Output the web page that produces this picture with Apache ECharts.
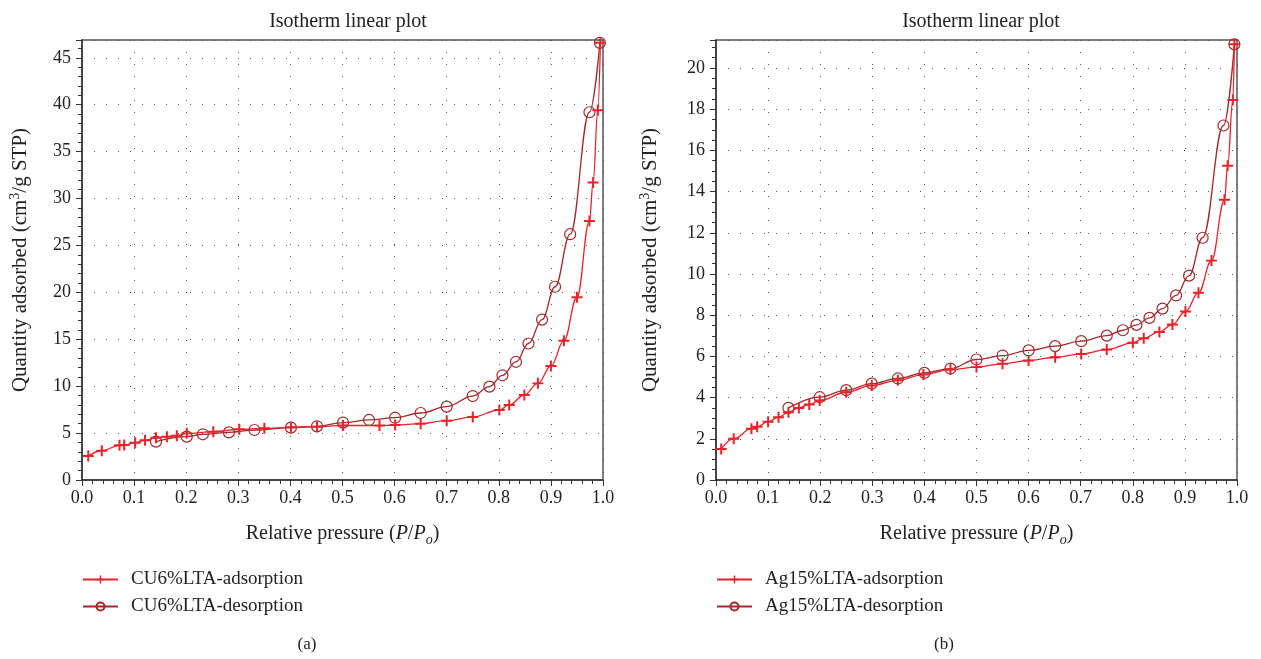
<!DOCTYPE html>
<html>
<head>
<meta charset="utf-8">
<script src="https://cdn.jsdelivr.net/npm/echarts@6/dist/echarts.min.js"></script>
<style>
  html, body { margin: 0; padding: 0; background: #fff; }
  #chart { width: 1261px; height: 659px; }
</style>
</head>
<body>
<div id="chart"></div>
<script>
// Isotherm data
const cuAdsP = [0.012, 0.038, 0.072, 0.081, 0.102, 0.121, 0.142, 0.163, 0.182, 0.201, 0.252, 0.302, 0.350, 0.401, 0.451, 0.501, 0.571, 0.601, 0.650, 0.700, 0.750, 0.801, 0.820, 0.849, 0.875, 0.900, 0.925, 0.950, 0.974, 0.981, 0.990, 0.995];
const cuAdsQ = [2.56, 3.12, 3.70, 3.72, 3.98, 4.23, 4.51, 4.62, 4.72, 4.97, 5.15, 5.40, 5.51, 5.62, 5.68, 5.82, 5.80, 5.86, 6.00, 6.32, 6.72, 7.46, 8.00, 9.06, 10.3, 12.15, 14.85, 19.48, 27.6, 31.7, 39.4, 46.6];
const cuDesP = [0.142, 0.201, 0.232, 0.282, 0.331, 0.401, 0.451, 0.501, 0.551, 0.601, 0.650, 0.700, 0.750, 0.782, 0.807, 0.833, 0.857, 0.883, 0.908, 0.937, 0.974, 0.994];
const cuDesQ = [4.09, 4.62, 4.87, 5.08, 5.33, 5.58, 5.72, 6.12, 6.40, 6.64, 7.14, 7.82, 8.95, 9.95, 11.16, 12.6, 14.55, 17.1, 20.6, 26.2, 39.2, 46.6];

const agAdsP = [0.010, 0.034, 0.068, 0.079, 0.100, 0.120, 0.139, 0.159, 0.179, 0.199, 0.250, 0.299, 0.349, 0.398, 0.450, 0.500, 0.550, 0.600, 0.651, 0.701, 0.750, 0.800, 0.821, 0.851, 0.876, 0.901, 0.926, 0.951, 0.976, 0.982, 0.992, 0.995];
const agAdsQ = [1.51, 2.0, 2.49, 2.58, 2.83, 3.05, 3.29, 3.50, 3.67, 3.86, 4.26, 4.59, 4.84, 5.12, 5.36, 5.48, 5.64, 5.80, 5.96, 6.12, 6.33, 6.66, 6.88, 7.19, 7.55, 8.18, 9.09, 10.65, 13.6, 15.25, 18.45, 21.15];
const agDesP = [0.139, 0.199, 0.250, 0.299, 0.349, 0.400, 0.450, 0.500, 0.550, 0.600, 0.651, 0.701, 0.750, 0.781, 0.807, 0.832, 0.857, 0.883, 0.908, 0.934, 0.974, 0.995];
const agDesQ = [3.50, 4.02, 4.36, 4.68, 4.93, 5.20, 5.41, 5.85, 6.04, 6.29, 6.50, 6.74, 7.01, 7.27, 7.53, 7.87, 8.32, 8.96, 9.92, 11.76, 17.21, 21.15];

const seriesNames = ['CU6%LTA-adsorption', 'CU6%LTA-desorption', 'Ag15%LTA-adsorption', 'Ag15%LTA-desorption'];
const panelTitle = 'Isotherm linear plot';
const captions = ['(a)', '(b)'];

const FONT = '"Liberation Serif", "DejaVu Serif", serif';
const INK = '#222';
const ADS_RED = '#e8222b';
const DES_RED = '#a02a2d';
const PLUS = 'path://M0,4.1L10,4.1L10,5.9L0,5.9ZM4.1,0L5.9,0L5.9,10L4.1,10Z';

const zip = (xs, ys) => xs.map((x, i) => [x, ys[i]]);

const chart = echarts.init(document.getElementById('chart'));

const xAxisFor = (gridIndex) => ({
  type: 'value',
  gridIndex,
  min: 0,
  max: 1,
  interval: 0.1,
  name: '{n|Relative pressure (}{i|P}{n|/}{i|P}{s|o}{n|)}',
  nameLocation: 'middle',
  nameGap: 40,
  nameTextStyle: {
    rich: {
      n: { fontFamily: FONT, fontSize: 20, color: INK },
      i: { fontFamily: FONT, fontSize: 20, fontStyle: 'italic', color: INK },
      s: { fontFamily: FONT, fontSize: 14, fontStyle: 'italic', color: INK, padding: [13, 0, 0, 0] },
    },
  },
  axisLine: { lineStyle: { color: '#333', width: 1.5 } },
  axisTick: { length: 6, lineStyle: { color: '#333' } },
  minorTick: { show: true, splitNumber: 5, length: 4, lineStyle: { color: '#333' } },
  axisLabel: {
    fontFamily: FONT, fontSize: 18, color: INK, margin: 9,
    formatter: (v) => v.toFixed(1),
  },
  splitLine: { show: true, lineStyle: { color: '#555', type: [1, 11], width: 1 } },
});

const yAxisFor = (gridIndex, max, interval, minorSplit) => ({
  type: 'value',
  gridIndex,
  min: 0,
  max,
  interval,
  name: '{n|Quantity adsorbed (cm}{u|3}{n|/g STP)}',
  nameLocation: 'middle',
  nameGap: gridIndex === 0 ? 49 : 53,
  nameTextStyle: {
    rich: {
      n: { fontFamily: FONT, fontSize: 21, color: INK },
      u: { fontFamily: FONT, fontSize: 14, color: INK, padding: [0, 0, 11, 0] },
    },
  },
  axisLine: { lineStyle: { color: '#333', width: 1.5 } },
  axisTick: { length: 6, lineStyle: { color: '#333' } },
  minorTick: { show: true, splitNumber: minorSplit, length: 4, lineStyle: { color: '#333' } },
  axisLabel: { fontFamily: FONT, fontSize: 18, color: INK, margin: 11, showMaxLabel: false },
  splitLine: { show: true, lineStyle: { color: '#555', type: [1, 11], width: 1 } },
});

const adsSeries = (name, idx, data) => ({
  name,
  type: 'line',
  xAxisIndex: idx,
  yAxisIndex: idx,
  data,
  smooth: 0.4,
  smoothMonotone: 'x',
  symbol: PLUS,
  symbolSize: 11,
  itemStyle: { color: ADS_RED },
  lineStyle: { color: ADS_RED, width: 1.3 },
  z: 3,
});

const desSeries = (name, idx, data) => ({
  name,
  type: 'line',
  xAxisIndex: idx,
  yAxisIndex: idx,
  data,
  smooth: 0.4,
  smoothMonotone: 'x',
  symbol: 'circle',
  symbolSize: 11,
  itemStyle: { color: 'rgba(255,255,255,0)', borderColor: DES_RED, borderWidth: 1.2 },
  lineStyle: { color: DES_RED, width: 1.3 },
  z: 2,
});

const legendFor = (left, names) => ({
  left,
  top: 570,
  padding: 0,
  orient: 'vertical',
  itemWidth: 35,
  itemHeight: 10,
  itemGap: 8,
  textStyle: { fontFamily: FONT, fontSize: 19, color: INK, padding: [0, 0, 0, 8] },
  data: names,
});

const textStyle = (size) => ({ fontFamily: FONT, fontSize: size, fontWeight: 'normal', color: INK });

chart.setOption({
  animation: false,
  title: [
    { text: panelTitle, left: 343, top: 7, textAlign: 'center', textStyle: textStyle(20) },
    { text: panelTitle, left: 976, top: 7, textAlign: 'center', textStyle: textStyle(20) },
    { text: captions[0], left: 302, top: 631, textAlign: 'center', textStyle: textStyle(17) },
    { text: captions[1], left: 939, top: 631, textAlign: 'center', textStyle: textStyle(17) },
  ],
  legend: [
    legendFor(82, [seriesNames[0], seriesNames[1]]),
    legendFor(716, [seriesNames[2], seriesNames[3]]),
  ],
  grid: [
    { left: 82, top: 40, width: 521, height: 440, show: true, borderColor: '#555', borderWidth: 1.5 },
    { left: 716, top: 40, width: 521, height: 440, show: true, borderColor: '#555', borderWidth: 1.5 },
  ],
  xAxis: [xAxisFor(0), xAxisFor(1)],
  yAxis: [yAxisFor(0, 46.9, 5, 5), yAxisFor(1, 21.36, 2, 4)],
  series: [
    adsSeries(seriesNames[0], 0, zip(cuAdsP, cuAdsQ)),
    desSeries(seriesNames[1], 0, zip(cuDesP, cuDesQ)),
    adsSeries(seriesNames[2], 1, zip(agAdsP, agAdsQ)),
    desSeries(seriesNames[3], 1, zip(agDesP, agDesQ)),
  ],
});
</script>
</body>
</html>
